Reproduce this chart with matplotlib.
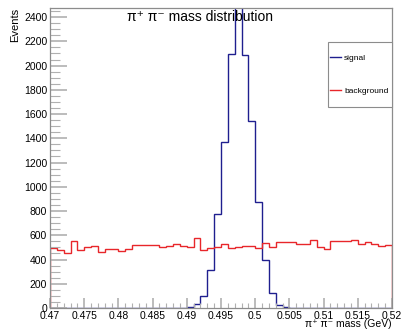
import numpy as np
import matplotlib
matplotlib.use("Agg")
import matplotlib.pyplot as plt
from matplotlib.ticker import MultipleLocator, AutoMinorLocator
from matplotlib.lines import Line2D
from matplotlib.patches import Rectangle

plt.rcParams['font.family'] = ['Liberation Sans', 'DejaVu Sans']

# 50 bins of 0.001 GeV from 0.47 to 0.52
edges = np.round(np.linspace(0.47, 0.52, 51), 4)

signal = [0, 0, 0, 0, 0, 0, 0, 0, 0, 0,
          0, 0, 0, 0, 0, 0, 0, 0, 0, 2,
          11, 33, 99, 313, 776, 1367, 2096, 2560, 2090, 1543,
          877, 400, 120, 25, 6, 0, 0, 0, 0, 0,
          0, 0, 0, 0, 0, 0, 0, 0, 0, 0]

background = [498, 480, 451, 553, 482, 502, 514, 459, 484, 484,
              472, 484, 520, 516, 516, 520, 500, 514, 525, 514,
              503, 580, 476, 492, 503, 531, 498, 500, 509, 509,
              492, 540, 503, 547, 547, 547, 528, 528, 561, 506,
              489, 555, 555, 555, 564, 525, 542, 525, 511, 520]

sig_color = '#1f1f8f'
bkg_color = '#e8262a'
frame_gray = '#8c8c8c'

fig = plt.figure(figsize=(4.05, 3.33), dpi=100)
ax = fig.add_axes([50/405, 25/333, 342/405, 300/333])

ax.stairs(signal, edges, color=sig_color, lw=1.0)
ax.stairs(background, edges, color=bkg_color, lw=1.0)

ax.set_xlim(0.47, 0.52)
ax.set_ylim(0, 2475)

ax.xaxis.set_major_locator(MultipleLocator(0.005))
ax.xaxis.set_minor_locator(AutoMinorLocator(5))
ax.yaxis.set_major_locator(MultipleLocator(200))
ax.yaxis.set_minor_locator(AutoMinorLocator(4))
ax.xaxis.set_major_formatter(plt.FuncFormatter(lambda v, p: ('%.3f' % v).rstrip('0').rstrip('.')))

ax.tick_params(axis='both', which='both', direction='in', color='#b0b0b0',
               labelsize=7.5, top=False, right=False)
ax.tick_params(axis='y', which='major', length=12, width=1.2, pad=2)
ax.tick_params(axis='y', which='minor', length=7, width=0.8)
ax.tick_params(axis='x', which='major', length=7, width=1.2, pad=2)
ax.tick_params(axis='x', which='minor', length=3.5, width=0.8)

for s in ax.spines.values():
    s.set_color(frame_gray)
    s.set_linewidth(0.9)

ax.set_ylabel('Events', fontsize=8, loc='top', labelpad=3)
ax.set_xlabel('π⁺ π⁻ mass (GeV)', fontsize=7.5, loc='right', labelpad=-1)

fig.text(0.494, 0.948, 'π⁺ π⁻ mass distribution', fontsize=10,
         ha='center', va='center')

# legend box (ROOT style, touching the right frame)
x0, y0 = (328.3 - 50) / 342, (308 - 106.7) / 300
w, h = 1.0 - x0, (106.7 - 41.7) / 300
ax.add_patch(Rectangle((x0, y0), w, h, transform=ax.transAxes, fill=True,
                       facecolor='white', edgecolor=frame_gray, lw=0.8,
                       clip_on=False, zorder=4))
handles = [Line2D([], [], color=sig_color, lw=1.0),
           Line2D([], [], color=bkg_color, lw=1.0)]
leg = ax.legend(handles, ['signal', 'background'], loc='center left',
                bbox_to_anchor=(x0, y0 + h / 2), borderaxespad=0,
                fontsize=6, handlelength=1.3, handletextpad=0.4,
                labelspacing=3.0, borderpad=0.2, frameon=False)
leg.set_zorder(5)

fig.savefig('out.png', dpi=100)
